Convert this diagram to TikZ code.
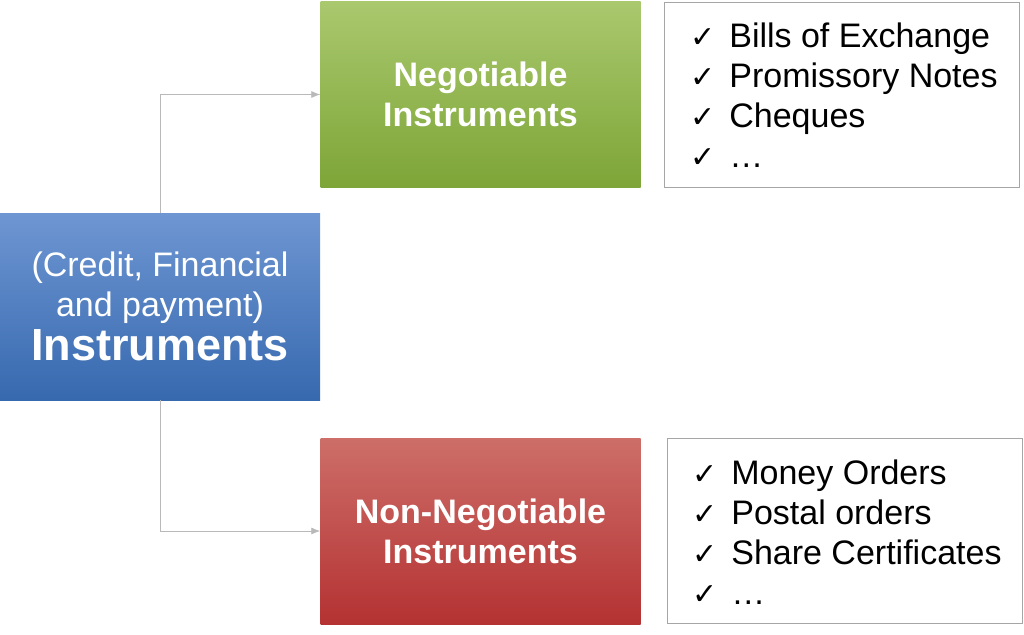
\documentclass[tikz,border=0pt]{standalone}
\usepackage{fontspec}
\setmainfont{Liberation Sans}
\newfontfamily\symfont{DejaVu Sans}
\usetikzlibrary{positioning,arrows.meta}

\tikzset{
  mainbox/.style={minimum width=320pt, minimum height=186pt, align=center,
    text=white, font=\fontsize{34}{40}\selectfont\bfseries, inner sep=0pt},
  listbox/.style={draw=gray!70, fill=white, minimum width=355pt, minimum height=185pt,
    inner sep=0pt},
  listtext/.style={anchor=west, align=left, inner sep=0pt,
    font=\fontsize{34}{40}\selectfont},
  link/.style={draw=gray!55, line width=0.8pt, -{Latex[length=9pt,width=7pt]}},
}
\newcommand{\tick}{{\symfont\fontsize{30}{40}\selectfont\char"2713}\hspace{14pt}}

\begin{document}
\begin{tikzpicture}[x=1pt, y=-1pt]
      \useasboundingbox (0,0) rectangle (1024,634);
      % boxes
      \node[mainbox, top color={rgb,255:red,110;green,150;blue,210},
        bottom color={rgb,255:red,55;green,105;blue,175}, minimum height=187pt]
        (instr) at (160,306.5)
        {\mdseries (Credit, Financial\\
         \mdseries and payment)\\[4pt]
         \fontsize{45}{48}\selectfont\bfseries Instruments};
      \node[mainbox, top color={rgb,255:red,170;green,200;blue,110},
        bottom color={rgb,255:red,125;green,165;blue,55}]
        (neg) at (480.5,94.5) {Negotiable\\Instruments};
      \node[mainbox, top color={rgb,255:red,205;green,110;blue,105},
        bottom color={rgb,255:red,180;green,50;blue,50}]
        (nonneg) at (480.5,531) {Non-Negotiable\\Instruments};
      % lists
      \node[listbox] (negl) at (842,94.5) {};
      \node[listtext] (negt) at (690,95)
        {\tick Bills of Exchange\\\tick Promissory Notes\\\tick Cheques\\\tick \dots};
      \node[listbox] (nonnegl) at (844.5,531) {};
      \node[listtext] (nonnegt) at (692,532)
        {\tick Money Orders\\\tick Postal orders\\\tick Share Certificates\\\tick \dots};
      % connectors
      \draw[link] (instr.north) |- (neg.west);
      \draw[link] (instr.south) |- (nonneg.west);
\end{tikzpicture}
\end{document}
